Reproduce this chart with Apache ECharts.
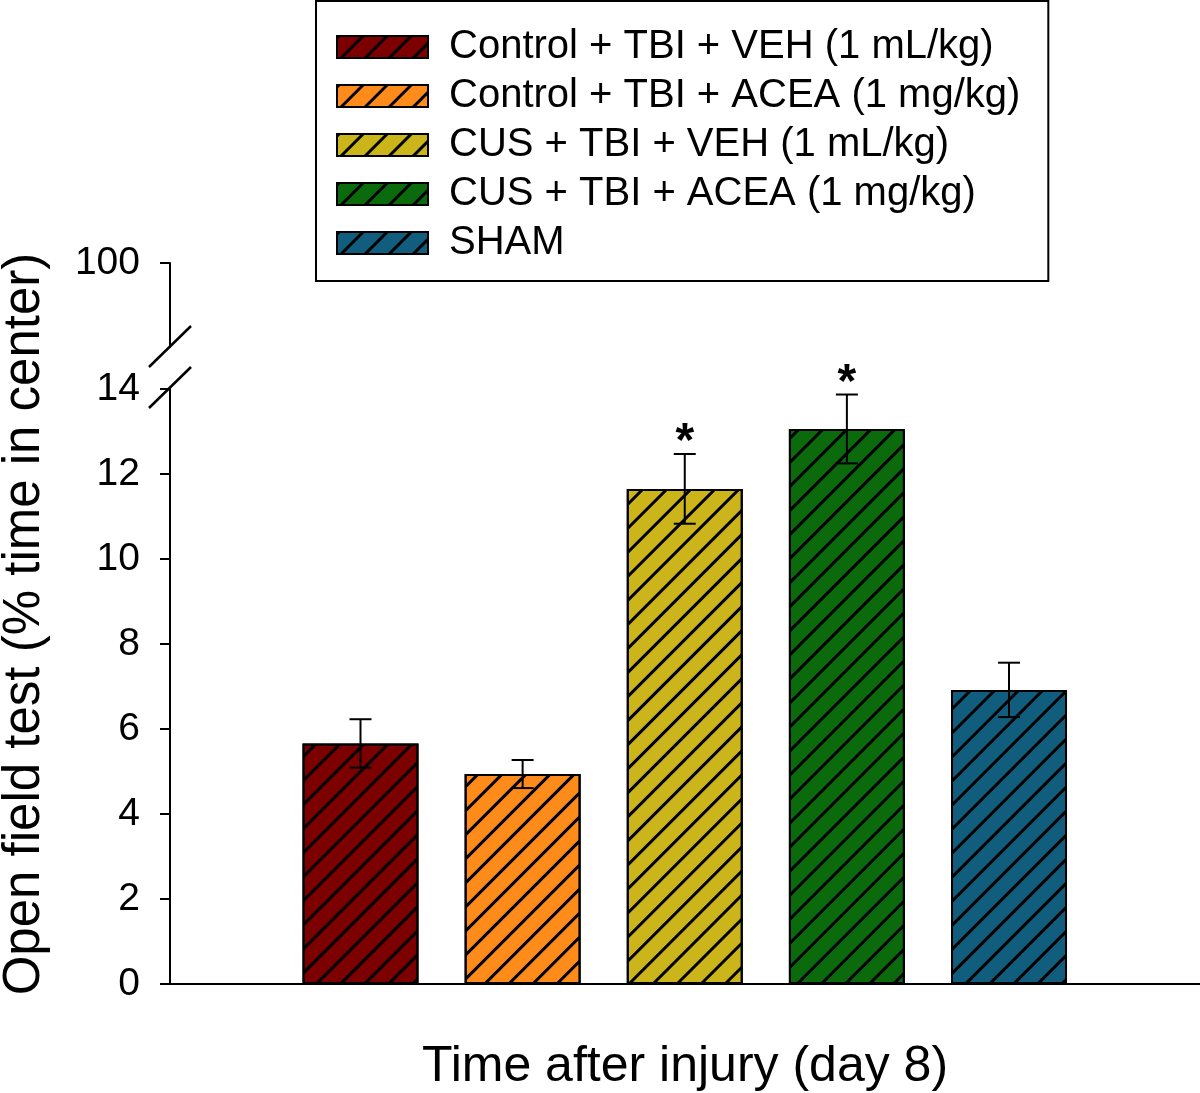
<!DOCTYPE html>
<html>
<head>
<meta charset="utf-8">
<script src="https://cdn.jsdelivr.net/npm/echarts@6/dist/echarts.min.js"></script>
<style>
html,body{margin:0;padding:0;background:#fff;}
#chart{width:1200px;height:1093px;}
</style>
</head>
<body>
<div id="chart"></div>
<script>
// ---- data ----
const groups = [
  'Control + TBI + VEH (1 mL/kg)',
  'Control + TBI + ACEA (1 mg/kg)',
  'CUS + TBI + VEH (1 mL/kg)',
  'CUS + TBI + ACEA (1 mg/kg)',
  'SHAM'
];
const means = [5.66, 4.94, 11.65, 13.06, 6.92];
const errors = [0.57, 0.33, 0.82, 0.81, 0.64];
const significant = [false, false, true, true, false];
const colors = ['#7d0000', '#ff8c1a', '#cbb51a', '#0b6a0b', '#115d7d'];
const yTicksLower = [0, 2, 4, 6, 8, 10, 12, 14];
const yTickUpper = [100];
const xTitle = 'Time after injury (day 8)';
const yTitle = 'Open field test (% time in center)';

const FONT = '"Liberation Sans", Arial, Helvetica, sans-serif';
const chart = echarts.init(document.getElementById('chart'), null, {renderer: 'canvas', width: 1200, height: 1093});

const hatch = {
  symbol: 'rect', symbolSize: 1,
  dashArrayX: [1, 0], dashArrayY: [2.5, 13.5],
  rotation: -Math.PI / 4, color: '#000'
};

const barSeries = groups.map((g, i) => ({
  name: g,
  type: 'bar',
  xAxisIndex: 0, yAxisIndex: 0,
  barWidth: 116,
  barGap: '-100%',
  itemStyle: {color: colors[i], borderColor: '#000', borderWidth: 2, decal: hatch},
  data: [[i + 1, means[i]]],
  z: 2
}));

const errData = means.map((m, i) => [i + 1, m, errors[i], significant[i] ? 1 : 0]);

const errSeries = {
  type: 'custom',
  xAxisIndex: 0, yAxisIndex: 0,
  data: errData,
  z: 5,
  renderItem: function (params, api) {
    const x = api.value(0), v = api.value(1), e = api.value(2), s = api.value(3);
    const top = api.coord([x, v + e]);
    const bot = api.coord([x, v - e]);
    const hw = 11;
    const st = {stroke: '#000', lineWidth: 2};
    const children = [
      {type: 'line', shape: {x1: top[0], y1: top[1], x2: bot[0], y2: bot[1]}, style: st},
      {type: 'line', shape: {x1: top[0] - hw, y1: top[1], x2: top[0] + hw, y2: top[1]}, style: st},
      {type: 'line', shape: {x1: bot[0] - hw, y1: bot[1], x2: bot[0] + hw, y2: bot[1]}, style: st}
    ];
    if (s) {
      children.push({type: 'text', x: top[0], y: top[1] - 11,
        style: {text: '*', font: 'bold 48px ' + FONT, fill: '#000', align: 'center', verticalAlign: 'middle'}});
    }
    return {type: 'group', children: children};
  }
};

const option = {
  backgroundColor: '#fff',
  animation: false,
  textStyle: {fontFamily: FONT},
  legend: {
    orient: 'vertical',
    left: 316, top: 1,
    padding: [26, 28, 18, 20],
    itemWidth: 91, itemHeight: 22,
    itemGap: 9,
    icon: 'rect',
    borderColor: '#000', borderWidth: 2,
    backgroundColor: '#fff',
    selectedMode: false,
    textStyle: {fontSize: 40, color: '#000', fontFamily: FONT, padding: [0, 0, 0, 16]},
    itemStyle: {borderColor: '#000', borderWidth: 2},
    data: groups
  },
  grid: [
    {left: 170, width: 1030, top: 389, height: 595, containLabel: false, outerBoundsMode: 'none'},
    {left: 170, width: 1030, top: 263, height: 84, containLabel: false, outerBoundsMode: 'none'}
  ],
  xAxis: [
    {type: 'value', gridIndex: 0, min: -0.175, max: 6.178,
      axisLine: {show: true, onZero: false, lineStyle: {color: '#000', width: 2}},
      axisTick: {show: false}, axisLabel: {show: false}, splitLine: {show: false},
      name: xTitle, nameLocation: 'middle', nameGap: 58,
      nameTextStyle: {fontSize: 50, color: '#000', fontFamily: FONT}},
    {type: 'value', gridIndex: 1, min: 0, max: 1, show: false}
  ],
  yAxis: [
    {type: 'value', gridIndex: 0, min: 0, max: 14, interval: 2,
      axisLine: {show: true, onZero: false, lineStyle: {color: '#000', width: 2}},
      axisTick: {show: true, inside: false, length: 10, lineStyle: {color: '#000', width: 2}},
      axisLabel: {fontSize: 39, color: '#000', margin: 30, fontFamily: FONT,
        customValues: yTicksLower},
      splitLine: {show: false}},
    {type: 'value', gridIndex: 1, min: 98, max: 100, interval: 2,
      axisLine: {show: true, onZero: false, lineStyle: {color: '#000', width: 2}},
      axisTick: {show: true, inside: false, length: 10, lineStyle: {color: '#000', width: 2}, customValues: yTickUpper},
      axisLabel: {fontSize: 39, color: '#000', margin: 30, fontFamily: FONT, customValues: yTickUpper},
      splitLine: {show: false}}
  ],
  graphic: [
    {type: 'line', shape: {x1: 149, y1: 367, x2: 191, y2: 326}, style: {stroke: '#000', lineWidth: 2.5}, z: 10},
    {type: 'line', shape: {x1: 149, y1: 408, x2: 191, y2: 367}, style: {stroke: '#000', lineWidth: 2.5}, z: 10},
    {type: 'text', x: 25, y: 624, rotation: Math.PI / 2,
      style: {text: yTitle, font: '51px ' + FONT, fill: '#000', align: 'center', verticalAlign: 'middle'}, z: 10}
  ],
  series: barSeries.concat([errSeries])
};

chart.setOption(option);
</script>
</body>
</html>
